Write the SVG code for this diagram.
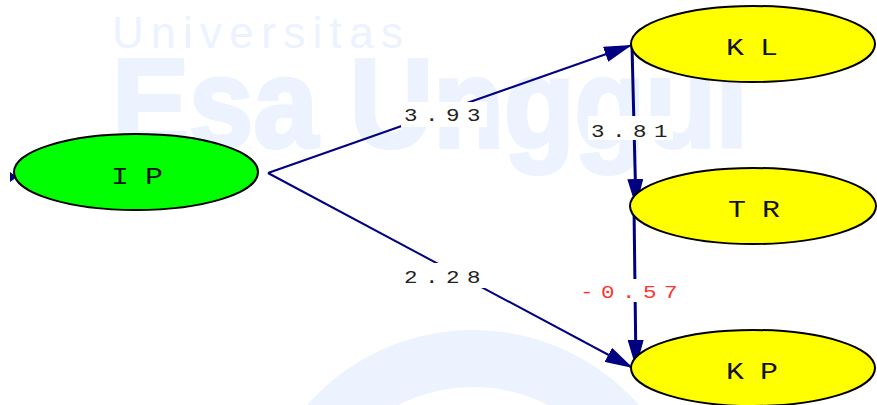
<svg xmlns="http://www.w3.org/2000/svg" width="877" height="405" viewBox="0 0 877 405">
<style>
.wm{fill:#ecf3fe;font-family:"Liberation Sans",Arial,sans-serif}
.node ellipse{stroke:#000;stroke-width:2}
.nlabel{font-family:"Liberation Mono","Courier New",monospace;font-size:23px;fill:#111}
.elabel{font-family:"Liberation Mono","Courier New",monospace;font-size:18px;letter-spacing:6px;fill:#222}
.edge{stroke:#000080;fill:none}
.bg{fill:#fff}
</style>
<defs>
<marker id="arr" markerUnits="userSpaceOnUse" markerWidth="28" markerHeight="16" refX="28" refY="8" orient="auto" viewBox="0 0 28 16">
<path d="M0,0 L28,8 L0,16 z" fill="#000080"/>
</marker>
</defs>
<rect width="877" height="405" fill="#fff"/>
<g id="watermark">
<text class="wm" x="112" y="48" font-size="44" textLength="291" lengthAdjust="spacing">Universitas</text>
<text class="wm" x="112" y="147" font-size="126" font-weight="bold" stroke="#ecf3fe" stroke-width="4" textLength="636" lengthAdjust="spacingAndGlyphs">Esa Unggul</text>
<circle cx="473" cy="551" r="192.5" fill="none" stroke="#ecf3fe" stroke-width="57"/>
</g>
<g id="connectors">
<line class="edge" x1="268" y1="173" x2="632" y2="45" stroke-width="2" marker-end="url(#arr)"/>
<line class="edge" x1="268" y1="173" x2="633" y2="368" stroke-width="2" marker-end="url(#arr)"/>
<line class="edge" x1="632" y1="46" x2="636" y2="207" stroke-width="3" marker-end="url(#arr)"/>
<line class="edge" x1="634" y1="207" x2="636" y2="368" stroke-width="3" marker-end="url(#arr)"/>
<polygon points="10,172 17,177 10,182" fill="#000080"/>
<rect class="bg" x="401" y="102" width="86" height="25"/>
<text class="elabel" transform="translate(404,121) scale(1.25,1)">3.93</text>
<rect class="bg" x="588" y="116" width="85" height="24"/>
<text class="elabel" transform="translate(591,137) scale(1.25,1)">3.81</text>
<rect class="bg" x="401" y="263" width="86" height="25"/>
<text class="elabel" transform="translate(404,283) scale(1.25,1)">2.28</text>
<rect class="bg" x="576" y="279" width="110" height="23"/>
<text class="elabel" transform="translate(580,298) scale(1.25,1)" style="fill:#ff3333">-0.57</text>
</g>
<g id="node-IP" class="node">
<ellipse cx="136" cy="172" rx="122" ry="38" fill="#00ff00"/>
<text class="nlabel" transform="translate(111,184) scale(1.3,1)" x="0 26.2">IP</text>
</g>
<g id="node-KL" class="node">
<ellipse cx="753" cy="44" rx="122" ry="38" fill="#ffff00"/>
<text class="nlabel" transform="translate(726,55) scale(1.3,1)" x="0 26.2">KL</text>
</g>
<g id="node-TR" class="node">
<ellipse cx="753" cy="206" rx="123" ry="38" fill="#ffff00"/>
<text class="nlabel" transform="translate(728,217) scale(1.3,1)" x="0 26.2">TR</text>
</g>
<g id="node-KP" class="node">
<ellipse cx="753" cy="368" rx="122" ry="38" fill="#ffff00"/>
<text class="nlabel" transform="translate(726,379) scale(1.3,1)" x="0 26.2">KP</text>
</g>
</svg>
